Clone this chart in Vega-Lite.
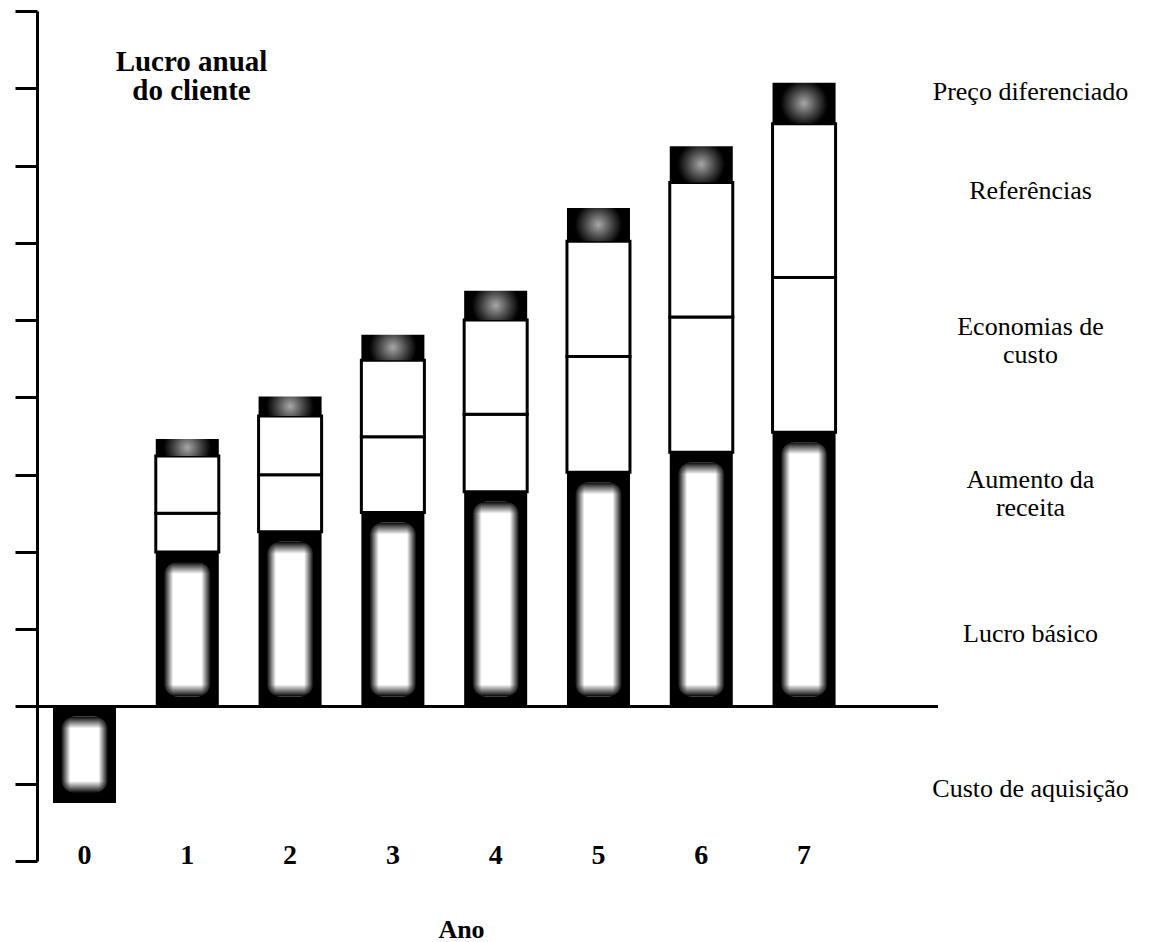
{
  "$schema": "https://vega.github.io/schema/vega-lite/v6.json",
  "width": 901,
  "height": 850,
  "autosize": "none",
  "padding": {"left": 37, "top": 11, "right": 231, "bottom": 81},
  "background": "white",
  "config": {
    "view": {"stroke": null},
    "font": "Liberation Serif",
    "axisX": {
      "orient": "bottom", "domain": false, "ticks": false, "tickSize": 0, "grid": false,
      "labelAngle": 0, "labelBaseline": "alphabetic", "labelPadding": 2,
      "labelFont": "Liberation Serif", "labelFontSize": 28, "labelFontWeight": "bold", "labelColor": "black",
      "titleX": 424, "titleY": 76, "titleAlign": "center", "titleBaseline": "alphabetic",
      "titleFont": "Liberation Serif", "titleFontSize": 26, "titleFontWeight": "bold", "titleColor": "black"
    }
  },
  "data": {
    "values": [
      {"ano": 0, "segmento": "Custo de aquisição", "ordem": 0, "valor": -1.25},
      {"ano": 1, "segmento": "Lucro básico", "ordem": 1, "valor": 1.3},
      {"ano": 1, "segmento": "Aumento da receita", "ordem": 2, "valor": 0.7},
      {"ano": 1, "segmento": "Economias de custo", "ordem": 3, "valor": 0.5},
      {"ano": 1, "segmento": "Referências", "ordem": 4, "valor": 0.74},
      {"ano": 1, "segmento": "Preço diferenciado", "ordem": 5, "valor": 0.22},
      {"ano": 2, "segmento": "Lucro básico", "ordem": 1, "valor": 1.3},
      {"ano": 2, "segmento": "Aumento da receita", "ordem": 2, "valor": 0.96},
      {"ano": 2, "segmento": "Economias de custo", "ordem": 3, "valor": 0.74},
      {"ano": 2, "segmento": "Referências", "ordem": 4, "valor": 0.76},
      {"ano": 2, "segmento": "Preço diferenciado", "ordem": 5, "valor": 0.25},
      {"ano": 3, "segmento": "Lucro básico", "ordem": 1, "valor": 1.3},
      {"ano": 3, "segmento": "Aumento da receita", "ordem": 2, "valor": 1.21},
      {"ano": 3, "segmento": "Economias de custo", "ordem": 3, "valor": 0.98},
      {"ano": 3, "segmento": "Referências", "ordem": 4, "valor": 0.99},
      {"ano": 3, "segmento": "Preço diferenciado", "ordem": 5, "valor": 0.33},
      {"ano": 4, "segmento": "Lucro básico", "ordem": 1, "valor": 1.3},
      {"ano": 4, "segmento": "Aumento da receita", "ordem": 2, "valor": 1.48},
      {"ano": 4, "segmento": "Economias de custo", "ordem": 3, "valor": 1.0},
      {"ano": 4, "segmento": "Referências", "ordem": 4, "valor": 1.22},
      {"ano": 4, "segmento": "Preço diferenciado", "ordem": 5, "valor": 0.38},
      {"ano": 5, "segmento": "Lucro básico", "ordem": 1, "valor": 1.3},
      {"ano": 5, "segmento": "Aumento da receita", "ordem": 2, "valor": 1.73},
      {"ano": 5, "segmento": "Economias de custo", "ordem": 3, "valor": 1.5},
      {"ano": 5, "segmento": "Referências", "ordem": 4, "valor": 1.49},
      {"ano": 5, "segmento": "Preço diferenciado", "ordem": 5, "valor": 0.43},
      {"ano": 6, "segmento": "Lucro básico", "ordem": 1, "valor": 1.3},
      {"ano": 6, "segmento": "Aumento da receita", "ordem": 2, "valor": 1.99},
      {"ano": 6, "segmento": "Economias de custo", "ordem": 3, "valor": 1.75},
      {"ano": 6, "segmento": "Referências", "ordem": 4, "valor": 1.74},
      {"ano": 6, "segmento": "Preço diferenciado", "ordem": 5, "valor": 0.47},
      {"ano": 7, "segmento": "Lucro básico", "ordem": 1, "valor": 1.3},
      {"ano": 7, "segmento": "Aumento da receita", "ordem": 2, "valor": 2.25},
      {"ano": 7, "segmento": "Economias de custo", "ordem": 3, "valor": 2.0},
      {"ano": 7, "segmento": "Referências", "ordem": 4, "valor": 1.99},
      {"ano": 7, "segmento": "Preço diferenciado", "ordem": 5, "valor": 0.53}
    ]
  },
  "layer": [
    {
      "transform": [
        {"stack": "valor", "groupby": ["ano"], "sort": [{"field": "ordem", "order": "ascending"}], "as": ["v0", "v1"]},
        {"filter": {"field": "segmento", "oneOf": ["Economias de custo", "Referências"]}}
      ],
      "mark": {"type": "bar", "fill": "white", "stroke": "black", "strokeWidth": 3},
      "encoding": {
        "x": {
          "field": "ano", "type": "ordinal", "title": "Ano",
          "scale": {"type": "band", "domain": [0, 1, 2, 3, 4, 5, 6, 7], "paddingInner": 0.387, "paddingOuter": 0.576, "align": 0.135}
        },
        "y": {
          "field": "v1", "type": "quantitative",
          "scale": {"domain": [-2, 9], "nice": false, "zero": false},
          "axis": {
            "orient": "left", "values": [-2, -1, 0, 1, 2, 3, 4, 5, 6, 7, 8, 9],
            "labels": false, "grid": false, "ticks": true, "tickSize": 22, "tickWidth": 3, "tickColor": "black",
            "domain": true, "domainColor": "black", "domainWidth": 3,
            "title": ["Lucro anual", "do cliente"], "titleAngle": 0, "titleX": 154, "titleY": 59,
            "titleAlign": "center", "titleBaseline": "alphabetic", "titleFont": "Liberation Serif",
            "titleFontSize": 29, "titleFontWeight": "bold", "titleLineHeight": 29, "titleColor": "black"
          }
        },
        "y2": {"field": "v0"}
      }
    },
    {
      "transform": [
        {"stack": "valor", "groupby": ["ano"], "sort": [{"field": "ordem", "order": "ascending"}], "as": ["v0", "v1"]},
        {"filter": {"field": "segmento", "oneOf": ["Custo de aquisição", "Lucro básico", "Aumento da receita"]}},
        {"calculate": "min(datum.v0, datum.v1)", "as": "lo"},
        {"calculate": "max(datum.v0, datum.v1)", "as": "hi"},
        {"aggregate": [{"op": "min", "field": "lo", "as": "lo"}, {"op": "max", "field": "hi", "as": "hi"}], "groupby": ["ano"]}
      ],
      "layer": [
        {
          "mark": {"type": "bar", "fill": "black"},
          "encoding": {
            "x": {"field": "ano", "type": "ordinal", "title": "Ano", "scale": {"type": "band", "domain": [0, 1, 2, 3, 4, 5, 6, 7], "paddingInner": 0.387, "paddingOuter": 0.576, "align": 0.135}},
            "y": {"field": "hi", "type": "quantitative", "scale": {"domain": [-2, 9], "nice": false, "zero": false}, "axis": null},
            "y2": {"field": "lo"}
          }
        },
        {
          "mark": {
            "type": "bar", "size": 47, "cornerRadius": 14, "yOffset": 10, "y2Offset": -10,
            "fill": {
              "gradient": "linear", "x1": 0, "y1": 0, "x2": 1, "y2": 0,
              "stops": [
                {"offset": 0, "color": "#000000"},
                {"offset": 0.2, "color": "#ffffff"},
                {"offset": 0.8, "color": "#ffffff"},
                {"offset": 1, "color": "#000000"}
              ]
            }
          },
          "encoding": {
            "x": {"field": "ano", "type": "ordinal", "title": "Ano", "scale": {"type": "band", "domain": [0, 1, 2, 3, 4, 5, 6, 7], "paddingInner": 0.387, "paddingOuter": 0.576, "align": 0.135}},
            "y": {"field": "hi", "type": "quantitative", "scale": {"domain": [-2, 9], "nice": false, "zero": false}, "axis": null},
            "y2": {"field": "lo"}
          }
        },
        {
          "mark": {
            "type": "bar", "size": 47, "yOffset": 10, "y2Offset": 22,
            "fill": {
              "gradient": "linear", "x1": 0, "y1": 0, "x2": 0, "y2": 1,
              "stops": [
                {"offset": 0, "color": "rgba(0,0,0,1)"},
                {"offset": 1, "color": "rgba(0,0,0,0)"}
              ]
            }
          },
          "encoding": {
            "x": {"field": "ano", "type": "ordinal", "title": "Ano", "scale": {"type": "band", "domain": [0, 1, 2, 3, 4, 5, 6, 7], "paddingInner": 0.387, "paddingOuter": 0.576, "align": 0.135}},
            "y": {"field": "hi", "type": "quantitative", "scale": {"domain": [-2, 9], "nice": false, "zero": false}, "axis": null},
            "y2": {"field": "hi"}
          }
        },
        {
          "mark": {
            "type": "bar", "size": 47, "yOffset": -22, "y2Offset": -10,
            "fill": {
              "gradient": "linear", "x1": 0, "y1": 0, "x2": 0, "y2": 1,
              "stops": [
                {"offset": 0, "color": "rgba(0,0,0,0)"},
                {"offset": 1, "color": "rgba(0,0,0,1)"}
              ]
            }
          },
          "encoding": {
            "x": {"field": "ano", "type": "ordinal", "title": "Ano", "scale": {"type": "band", "domain": [0, 1, 2, 3, 4, 5, 6, 7], "paddingInner": 0.387, "paddingOuter": 0.576, "align": 0.135}},
            "y": {"field": "lo", "type": "quantitative", "scale": {"domain": [-2, 9], "nice": false, "zero": false}, "axis": null},
            "y2": {"field": "lo"}
          }
        }
      ]
    },
    {
      "transform": [
        {"stack": "valor", "groupby": ["ano"], "sort": [{"field": "ordem", "order": "ascending"}], "as": ["v0", "v1"]},
        {"filter": {"field": "segmento", "equal": "Preço diferenciado"}}
      ],
      "mark": {
        "type": "bar",
        "fill": {
          "gradient": "radial", "x1": 0.5, "y1": 0.5, "r1": 0, "x2": 0.5, "y2": 0.5, "r2": 0.5,
          "stops": [
            {"offset": 0, "color": "#a8a8a8"},
            {"offset": 0.45, "color": "#404040"},
            {"offset": 0.75, "color": "#000000"},
            {"offset": 1, "color": "#000000"}
          ]
        }
      },
      "encoding": {
        "x": {"field": "ano", "type": "ordinal", "title": "Ano", "scale": {"type": "band", "domain": [0, 1, 2, 3, 4, 5, 6, 7], "paddingInner": 0.387, "paddingOuter": 0.576, "align": 0.135}},
        "y": {"field": "v1", "type": "quantitative", "scale": {"domain": [-2, 9], "nice": false, "zero": false}, "axis": null},
        "y2": {"field": "v0"}
      }
    },
    {
      "data": {"values": [{"nivel": 0}]},
      "mark": {"type": "rule", "color": "black", "strokeWidth": 3},
      "encoding": {
        "y": {
          "field": "nivel", "type": "quantitative",
          "scale": {"domain": [-2, 9], "nice": false, "zero": false},
          "axis": {
            "orient": "right", "values": [7.85, 6.58, 4.81, 2.84, 0.835, -1.17],
            "labelExpr": "datum.value > 7 ? 'Preço diferenciado' : datum.value > 6 ? 'Referências' : datum.value > 4 ? ['Economias de', 'custo'] : datum.value > 2 ? ['Aumento da', 'receita'] : datum.value > 0 ? 'Lucro básico' : 'Custo de aquisição'",
            "domain": false, "ticks": false, "tickSize": 0, "grid": false,
            "labelAlign": "center", "labelBaseline": "alphabetic", "labelPadding": 92, "labelLimit": 400,
            "labelFont": "Liberation Serif", "labelFontSize": 26, "labelColor": "black", "labelLineHeight": 28,
            "labelOverlap": false, "labelBound": false, "labelFlush": false,
            "title": null
          }
        }
      }
    }
  ],
  "resolve": {"scale": {"y": "independent"}, "axis": {"y": "independent"}}
}
